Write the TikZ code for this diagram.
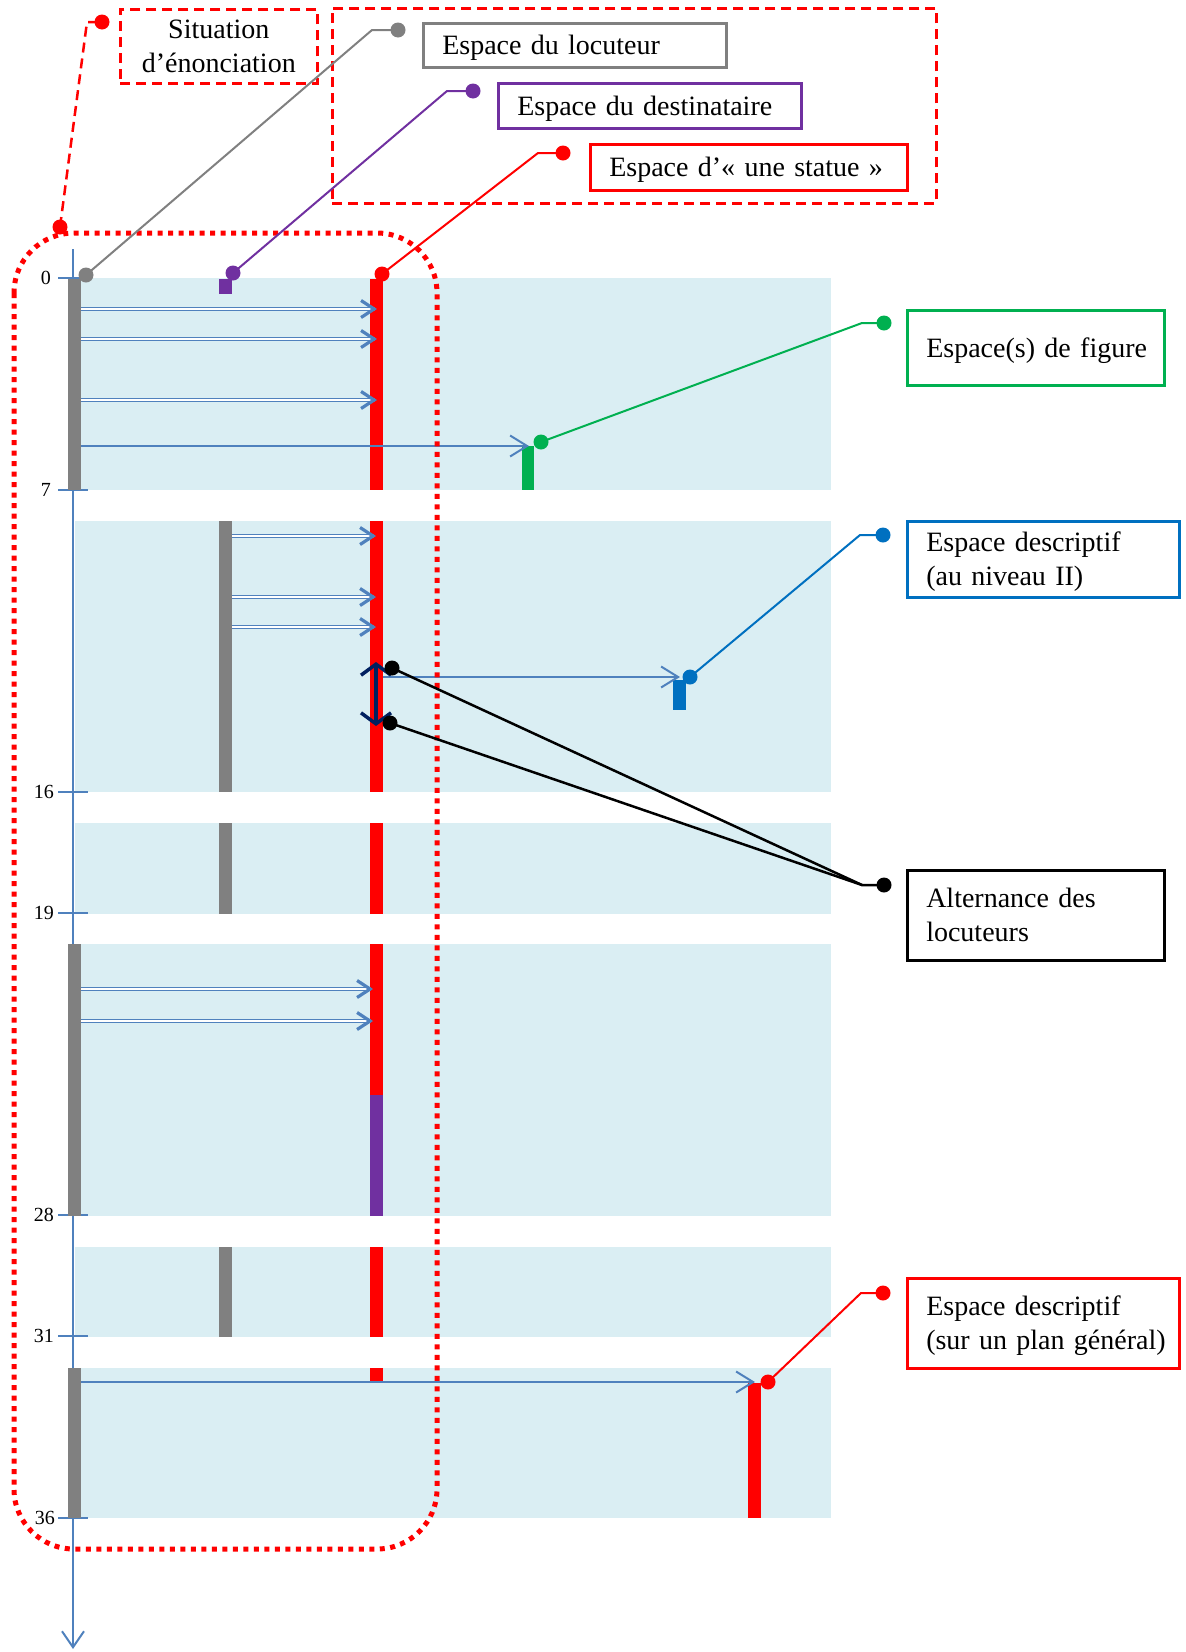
\documentclass[tikz,border=0pt]{standalone}
\usepackage{fontspec}
\setmainfont{Liberation Serif}
\usetikzlibrary{arrows.meta}
\definecolor{band}{HTML}{DAEEF3}
\definecolor{lgray}{HTML}{808080}
\definecolor{pur}{HTML}{7030A0}
\definecolor{grn}{HTML}{00B050}
\definecolor{bl}{HTML}{0070C0}
\definecolor{axb}{HTML}{4F81BD}
\definecolor{navy}{HTML}{002060}
\definecolor{rd}{HTML}{FF0000}
\begin{document}
\begin{tikzpicture}[x=1pt,y=-1pt,
  box/.style={draw=#1, line width=2.5pt, anchor=north west, inner xsep=19pt, inner ysep=0pt, align=left, font=\fontsize{28}{34}\selectfont},
  oneline/.style={text depth=0pt},
  twoline/.style={text depth=35pt},
  dbox/.style={draw=rd, line width=2.5pt, dash pattern=on 10pt off 6pt},
  dot/.style={circle, fill=#1, inner sep=0pt, minimum size=15pt},
  callout/.style={draw=#1, line width=2pt},
  dblshaft/.style={draw=axb, line width=1.2pt, double=white, double distance=1.1pt, shorten >=2pt},
  dbltip/.style={draw=axb, line width=3.2pt, -{Straight Barb[length=13pt,width=17pt]}},
  sglarrow/.style={draw=axb, line width=2pt, -{Straight Barb[length=17pt,width=21pt]}},
  ticklab/.style={anchor=east, inner sep=0pt, font=\fontsize{20}{20}\selectfont}]
\useasboundingbox (0,0) rectangle (1186,1652);
% bands
\foreach \a/\b in {278/490, 521/792, 823/914, 944/1216, 1247/1337, 1368/1518}
  \fill[band] (75,\a) rectangle (831,\b);
% axis
\coordinate (axtop) at (73,249);
\coordinate (axbot) at (73,1649);
\draw[axb, line width=2pt, -{Straight Barb[length=16pt,width=22pt]}] (axtop) -- (axbot);
\foreach \y/\l/\x in {278/0/51, 490/7/51, 792/16/54, 913/19/54, 1215/28/54, 1336/31/54, 1518/36/55}{
  \draw[axb, line width=2pt] (58,\y) -- (88,\y);
  \node[ticklab] at (\x,\y) {\l};
}
% bars
\foreach \a/\b in {279/490, 944/1216, 1368/1518}
  \fill[lgray] (68,\a) rectangle (81,\b);
\foreach \a/\b in {521/792, 823/914, 1247/1337}
  \fill[lgray] (219,\a) rectangle (232,\b);
\foreach \a/\b in {279/490, 521/792, 823/914, 944/1095, 1247/1337, 1368/1383}
  \fill[rd] (370,\a) rectangle (383,\b);
\fill[pur] (370,1095) rectangle (383,1216);
\fill[pur] (219,279) rectangle (232,294);
\fill[rd] (748,1383) rectangle (761,1518);
\fill[grn] (522,446) rectangle (534,490);
\fill[bl] (673,680) rectangle (686,710);
% double arrows
\foreach \xs/\xt/\y in {81/377/309, 81/377/339, 81/377/400, 232/376/536, 232/376/597, 232/376/627, 81/373/989, 81/373/1021}{
  \coordinate (s\y) at (\xs,\y); \coordinate (t\y) at (\xt,\y);
  \draw[dblshaft] (s\y) -- (t\y);
  \draw[dbltip] ([xshift=-3pt]t\y) -- (t\y);}
% single arrows
\coordinate (fs) at (81,446); \coordinate (ft) at (529,446);
\draw[sglarrow] (fs) -- (ft);
\coordinate (ds) at (383,677); \coordinate (dt) at (680,677);
\draw[sglarrow] (ds) -- (dt);
\coordinate (gs) at (81,1382); \coordinate (gt) at (755,1382);
\draw[sglarrow] (gs) -- (gt);
\coordinate (nva) at (376,662); \coordinate (nvb) at (376,726);
\draw[navy, line width=3.5pt, {Straight Barb[length=11pt,width=30pt]}-{Straight Barb[length=11pt,width=30pt]}] (nva) -- (nvb);
% dotted group
\draw[rd, line width=5pt, dash pattern=on 5pt off 5.5pt, rounded corners=60pt] (14,233) rectangle (437,1549);
% dashed boxes
\node[dbox, anchor=north west, minimum width=197pt, minimum height=74pt, inner sep=0pt, align=center, font=\fontsize{28}{34}\selectfont] (sit) at (119,8) {Situation\\d’énonciation};
\node[dbox, anchor=north west, minimum width=604pt, minimum height=195pt, inner sep=0pt] (grp) at (331,7) {};
% boxes
\node[box=lgray, oneline, minimum width=303pt, minimum height=44pt, text width=265pt] (loc) at (422,22) {Espace du locuteur};
\node[box=pur, oneline, minimum width=303pt, minimum height=45pt, text width=265pt] (dest) at (497,82) {Espace du destinataire};
\node[box=rd, oneline, minimum width=317pt, minimum height=46pt, text width=279pt] (stat) at (589,143) {Espace d’«~une statue~»};
\node[box=grn, oneline, minimum width=257pt, minimum height=75pt, text width=219pt] (fig) at (906,309) {\mbox{Espace(s)~de~figure}};
\node[box=bl, twoline, minimum width=272pt, minimum height=76pt, text width=234pt] (desc) at (906,520) {Espace descriptif\\(au niveau II)};
\node[box=black, twoline, minimum width=257pt, minimum height=90pt, text width=219pt] (alt) at (906,869) {Alternance des\\locuteurs};
\node[box=rd, twoline, minimum width=272pt, minimum height=90pt, text width=234pt] (gen) at (906,1277) {Espace descriptif\\\mbox{(sur~un~plan~général)}};
% callouts
\node[dot=rd] (sd1) at (60,227) {};
\node[dot=rd] (sd2) at (102,22) {};
\coordinate (se) at (87,22);
\draw[rd, line width=2.5pt, dash pattern=on 10pt off 6pt] (sd1.center) -- (se) -- (sd2.center);
\node[dot=lgray] (gd1) at (86,275) {};
\node[dot=lgray] (gd2) at (398,30) {};
\coordinate (ge) at (372,30);
\draw[callout=lgray] (gd1.center) -- (ge) -- (gd2.center);
\node[dot=pur] (pd1) at (233,273) {};
\node[dot=pur] (pd2) at (473,91) {};
\coordinate (pe) at (447,91);
\draw[callout=pur] (pd1.center) -- (pe) -- (pd2.center);
\node[dot=rd] (rd1) at (382,274) {};
\node[dot=rd] (rd2) at (563,153) {};
\coordinate (re) at (538,153);
\draw[callout=rd] (rd1.center) -- (re) -- (rd2.center);
\node[dot=grn] (gr1) at (541,442) {};
\node[dot=grn] (gr2) at (884,323) {};
\coordinate (gre) at (862,323);
\draw[callout=grn] (gr1.center) -- (gre) -- (gr2.center);
\node[dot=bl] (bd1) at (690,677) {};
\node[dot=bl] (bd2) at (883,535) {};
\coordinate (bde) at (860,535);
\draw[callout=bl] (bd1.center) -- (bde) -- (bd2.center);
\node[dot=black] (k1) at (392,668) {};
\node[dot=black] (k2) at (390,723) {};
\node[dot=black] (k3) at (884,885) {};
\coordinate (ke) at (862,885);
\draw[black, line width=2.5pt] (k1.center) -- (ke) -- (k3.center);
\draw[black, line width=2.5pt] (k2.center) -- (ke);
\node[dot=rd] (gn1) at (768,1382) {};
\node[dot=rd] (gn2) at (883,1293) {};
\coordinate (gne) at (861,1293);
\draw[callout=rd] (gn1.center) -- (gne) -- (gn2.center);
\end{tikzpicture}
\end{document}
